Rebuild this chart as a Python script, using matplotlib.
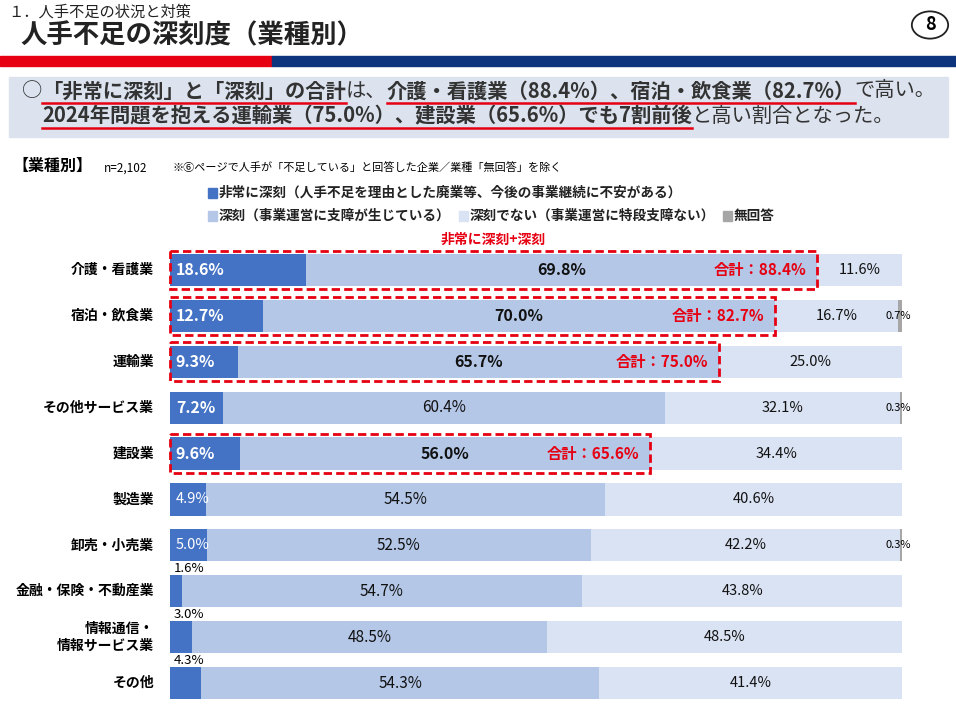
import matplotlib
matplotlib.use("Agg")
import matplotlib.pyplot as plt
from matplotlib.patches import Rectangle, Circle

plt.rcParams['font.family'] = ['Noto Sans CJK JP', 'DejaVu Sans']

categories = ['介護・看護業', '宿泊・飲食業', '運輸業', 'その他サービス業', '建設業',
              '製造業', '卸売・小売業', '金融・保険・不動産業', '情報通信・\n情報サービス業', 'その他']
very = [18.6, 12.7, 9.3, 7.2, 9.6, 4.9, 5.0, 1.6, 3.0, 4.3]
serious = [69.8, 70.0, 65.7, 60.4, 56.0, 54.5, 52.5, 54.7, 48.5, 54.3]
notser = [11.6, 16.7, 25.0, 32.1, 34.4, 40.6, 42.2, 43.8, 48.5, 41.4]
noans = [0.0, 0.7, 0.0, 0.3, 0.0, 0.0, 0.3, 0.0, 0.0, 0.0]
totals = [88.4, 82.7, 75.0, None, 65.6, None, None, None, None, None]
legend_labels = ['非常に深刻（人手不足を理由とした廃業等、今後の事業継続に不安がある）',
                 '深刻（事業運営に支障が生じている）', '深刻でない（事業運営に特段支障ない）', '無回答']

C1, C2, C3, C4 = '#4472C4', '#B4C7E7', '#DAE3F3', '#A6A6A6'
RED = '#E60012'
W, H = 956, 717
fig = plt.figure(figsize=(W/100, H/100), dpi=100)

def fx(x): return x / W
def fy(y): return 1 - y / H

# header
fig.text(fx(8), fy(12), '１．人手不足の状況と対策', fontsize=11, color='#222', va='center')
fig.text(fx(20), fy(36), '人手不足の深刻度（業種別）', fontsize=19, weight='bold', color='#222', va='center')
fig.patches.append(Rectangle((0, fy(66)), fx(272), (66-56)/H, transform=fig.transFigure, color=RED))
fig.patches.append(Rectangle((fx(272), fy(66)), 1-fx(272), (66-56)/H, transform=fig.transFigure, color='#0E347E'))
fig.patches.append(Circle((fx(930), fy(25)), 0.019, transform=fig.transFigure, fill=False, ec='#222', lw=1.3))
fig.text(fx(930), fy(25), '8', fontsize=13, weight='bold', ha='center', va='center')
fig.patches.append(Rectangle((fx(9), fy(137)), fx(939), (137-77)/H, transform=fig.transFigure, color='#DCE3EF'))

renderer = fig.canvas.get_renderer()
def rich(x, y, segs, size=14.6):
    for txt, bold, ul in segs:
        t = fig.text(fx(x), fy(y), txt, fontsize=size, weight='bold' if bold else 'normal',
                     color='#333', va='center')
        bb = t.get_window_extent(renderer)
        if ul:
            fig.lines.append(plt.Line2D([fx(x), fx(x + bb.width)], [fy(y+12)]*2,
                                        transform=fig.transFigure, color=RED, lw=1.8))
        x += bb.width
rich(22, 91, [('○', False, False), ('「非常に深刻」と「深刻」の合計', True, True), ('は、', False, False),
              ('介護・看護業（88.4%）、宿泊・飲食業（82.7%）', True, True), ('で高い。', False, False)])
rich(42, 116, [('2024年問題を抱える運輸業（75.0%）、建設業（65.6%）でも7割前後', True, True),
               ('と高い割合となった。', False, False)])

fig.text(fx(12), fy(166), '【業種別】', fontsize=11.5, weight='bold', va='center')
fig.text(fx(104), fy(168), 'n=2,102', fontsize=8.5, va='center')
fig.text(fx(172), fy(168), '※⑥ページで人手が「不足している」と回答した企業／業種「無回答」を除く', fontsize=8, va='center')
def leg(x, y, c, s):
    fig.patches.append(Rectangle((fx(x), fy(y+5)), fx(9), 10/H, transform=fig.transFigure, color=c))
    t = fig.text(fx(x+11), fy(y), s, fontsize=9.8, weight='bold', va='center', color='#222')
    return x + 11 + t.get_window_extent(renderer).width + 8
leg(208, 193, C1, legend_labels[0])
x = leg(208, 216, C2, legend_labels[1])
x = leg(x, 216, C3, legend_labels[2])
leg(x, 216, C4, legend_labels[3])
fig.text(fx(493), fy(240), '非常に深刻+深刻', fontsize=10, weight='bold', color=RED, ha='center', va='center')

ax = fig.add_axes([fx(170), fy(706), fx(902-170), (706-247)/H])
n = len(categories)
ys = list(range(n))
h = 0.7
lefts = [0]*n
for vals, c in [(very, C1), (serious, C2), (notser, C3), (noans, C4)]:
    ax.barh(ys, vals, left=lefts, height=h, color=c)
    lefts = [a+b for a, b in zip(lefts, vals)]
ax.set_xlim(0, 100)
ax.set_ylim(n-0.5, -0.5)
ax.axis('off')
for i in ys:
    boxed = totals[i] is not None
    if very[i] >= 4.5:
        ax.text(0.8, i, f'{very[i]:.1f}%', color='white', weight='bold' if very[i] > 7 else 'normal',
                fontsize=11.5 if very[i] > 7 else 10.5, va='center')
    else:
        ax.text(0.5, i-0.5, f'{very[i]:.1f}%', fontsize=9.5, va='center')
    ax.text(very[i] + serious[i]/2, i, f'{serious[i]:.1f}%', fontsize=11.5 if boxed else 11,
            weight='bold' if boxed else 'normal', ha='center', va='center', color='#111')
    ax.text(very[i] + serious[i] + notser[i]/2, i, f'{notser[i]:.1f}%', fontsize=10.5,
            ha='center', va='center', color='#111')
    if noans[i] > 0:
        ax.text(97.8, i, f'{noans[i]:.1f}%', fontsize=8, ha='left', va='center', clip_on=False)
    if boxed:
        ax.add_patch(Rectangle((0, i-0.42), totals[i], 0.84, fill=False, ec=RED, lw=2, ls=(0, (3, 1.5)),
                               clip_on=False))
        ax.text(totals[i]-1.5, i, f'合計：{totals[i]:.1f}%', color=RED, weight='bold', fontsize=11,
                ha='right', va='center')
    ax.text(-2.2, i, categories[i], ha='right', va='center', fontsize=10, weight='bold',
            linespacing=1.3, clip_on=False)

fig.savefig('out.png', dpi=100)
